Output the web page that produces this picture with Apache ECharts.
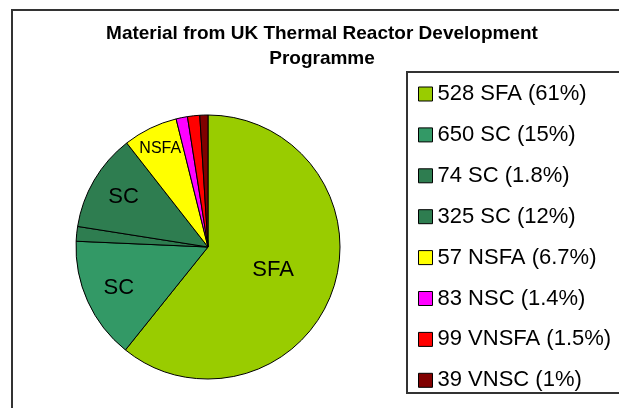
<!DOCTYPE html>
<html>
<head>
<meta charset="utf-8">
<script src="https://cdn.jsdelivr.net/npm/echarts@6/dist/echarts.min.js"></script>
<style>
html,body{margin:0;padding:0;background:#fff;}
#frame{position:absolute;left:11px;top:9px;width:700px;height:500px;border-left:2px solid #333;border-top:2px solid #333;box-sizing:border-box;}
#legendbox{position:absolute;left:406px;top:71px;width:300px;height:323px;border:2px solid #333;background:#fff;box-sizing:border-box;}
#chart{position:absolute;left:0;top:0;width:619px;height:408px;}
</style>
</head>
<body>
<div id="frame"></div>
<div id="legendbox"></div>
<div id="chart"></div>
<script>
// Data
const counts   = [528, 650, 74, 325, 57, 83, 99, 39];
const types    = ['SFA', 'SC', 'SC', 'SC', 'NSFA', 'NSC', 'VNSFA', 'VNSC'];
const percents = [61, 15, 1.8, 12, 6.7, 1.4, 1.5, 1];
const colors   = ['#99CC00', '#339966', '#2E7D50', '#2E7D50', '#FFFF00', '#FF00FF', '#FF0000', '#800000'];
// which slice label is drawn, and on which label ring
const sliceLabels = ['SFA', 'SC', '', 'SC', 'NSFA', '', '', ''];
const labelRing   = ['main', 'mid', '', 'mid', 'outer', '', '', ''];
const titleText = 'Material from UK Thermal Reactor Development\nProgramme';

const names = counts.map((c, i) => c + ' ' + types[i] + ' (' + percents[i] + '%)');

function ringData(ring) {
  return percents.map((v, i) => ({
    name: names[i],
    value: v,
    label: {
      show: labelRing[i] === ring,
      formatter: sliceLabels[i],
      fontSize: labelRing[i] === 'outer' ? 16 : 22
    }
  }));
}

const mainData = percents.map((v, i) => ({
  name: names[i],
  value: v,
  itemStyle: { color: colors[i] },
  label: { show: labelRing[i] === 'main', formatter: sliceLabels[i], fontSize: 22 }
}));

const overlayBase = {
  type: 'pie',
  center: [208, 247],
  startAngle: 90,
  clockwise: true,
  silent: true,
  legendHoverLink: false,
  animation: false,
  avoidLabelOverlap: false,
  itemStyle: { color: 'transparent', borderWidth: 0 },
  label: { position: 'inside', color: '#000', fontFamily: 'Liberation Sans, Arial, sans-serif' },
  labelLine: { show: false },
  emphasis: { disabled: true }
};

const chart = echarts.init(document.getElementById('chart'), null, { renderer: 'canvas' });
chart.setOption({
  backgroundColor: 'transparent',
  animation: false,
  title: {
    text: titleText,
    left: 322,
    textAlign: 'center',
    top: 21,
    padding: 0,
    textStyle: {
      fontFamily: 'Liberation Sans, Arial, sans-serif',
      fontSize: 19,
      fontWeight: 'bold',
      lineHeight: 25,
      color: '#000'
    }
  },
  legend: {
    orient: 'vertical',
    left: 407,
    top: 72,
    data: names,
    icon: 'rect',
    itemWidth: 14,
    itemHeight: 14,
    itemGap: 16.9,
    padding: [10, 0, 1, 11],
    selectedMode: false,
    itemStyle: { borderColor: '#000', borderWidth: 1 },
    textStyle: {
      fontFamily: 'Liberation Sans, Arial, sans-serif',
      fontSize: 22,
      lineHeight: 24,
      color: '#000'
    }
  },
  series: [
    {
      type: 'pie',
      center: [208, 247],
      radius: 132,
      startAngle: 90,
      clockwise: true,
      animation: false,
      avoidLabelOverlap: false,
      itemStyle: { borderColor: '#000', borderWidth: 1 },
      label: { position: 'inside', color: '#000', fontFamily: 'Liberation Sans, Arial, sans-serif' },
      labelLine: { show: false },
      emphasis: { disabled: true },
      data: mainData
    },
    Object.assign({}, overlayBase, { radius: 190, data: ringData('mid') }),
    Object.assign({}, overlayBase, { radius: 212, data: ringData('outer') })
  ]
});
</script>
</body>
</html>
